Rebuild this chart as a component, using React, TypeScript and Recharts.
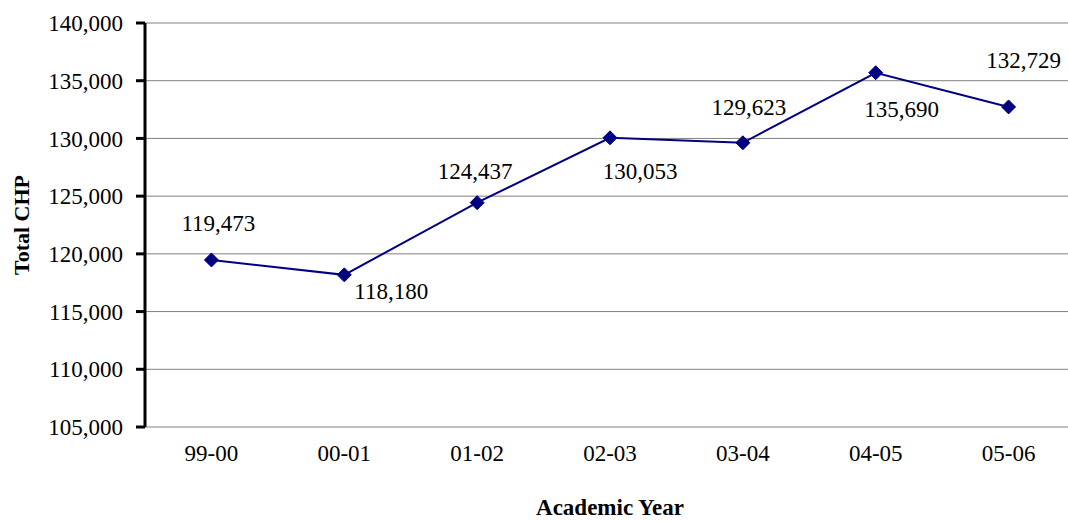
import { LineChart, Line, XAxis, YAxis, CartesianGrid, LabelList } from 'recharts';

const years = ['99-00', '00-01', '01-02', '02-03', '03-04', '04-05', '05-06'];
const totalChp = [119473, 118180, 124437, 130053, 129623, 135690, 132729];
const yTicks = [105000, 110000, 115000, 120000, 125000, 130000, 135000, 140000];
const boundaryTicks = [0, 1, 2, 3, 4, 5, 6, 7];

// where each value label sits relative to its marker (hand placed in the original)
const labelOffsets = [
  [7, -36],
  [47, 17],
  [-2, -31],
  [30, 34],
  [6, -35],
  [26, 37],
  [15, -46],
];

const FONT = '"Liberation Serif", "Times New Roman", serif';

const chartData = years.map((year, i) => ({ year, value: totalChp[i] }));

const fmt = (v: number) => v.toLocaleString('en-US');

const Diamond = (props: any) => {
  const { cx, cy } = props;
  if (cx == null || cy == null) return null;
  const r = 7;
  return (
    <polygon
      points={`${cx},${cy - r} ${cx + r},${cy} ${cx},${cy + r} ${cx - r},${cy}`}
      fill="#000080"
      stroke="#000080"
    />
  );
};

const ValueLabel = (props: any) => {
  const { x, y, value, index } = props;
  const [dx, dy] = labelOffsets[index] || [0, -20];
  return (
    <text
      x={x + dx}
      y={y + dy}
      textAnchor="middle"
      dominantBaseline="central"
      fontSize={23}
      fontFamily={FONT}
      fill="#000"
    >
      {fmt(value)}
    </text>
  );
};

export default function App() {
  return (
    <div
      style={{
        position: 'fixed',
        left: 0,
        top: 0,
        width: 1068,
        height: 521,
        overflow: 'hidden',
        background: '#fff',
        fontFamily: FONT,
      }}
    >
      <LineChart
        width={1090}
        height={521}
        data={chartData}
        margin={{ top: 23, right: 15, left: 0, bottom: 0 }}
        style={{ fontFamily: FONT }}
      >
        <CartesianGrid xAxisId="cat" vertical={false} stroke="#808080" strokeWidth={1} />
        <XAxis
          xAxisId="marks"
          type="number"
          domain={[0, 7]}
          ticks={boundaryTicks}
          height={0}
          tick={false}
          tickSize={9}
          axisLine={{ stroke: '#000', strokeWidth: 3 }}
          tickLine={{ stroke: '#000', strokeWidth: 3 }}
          allowDataOverflow
        />
        <XAxis
          xAxisId="cat"
          dataKey="year"
          scale="band"
          height={94}
          axisLine={false}
          tickLine={false}
          tickSize={0}
          tickMargin={18}
          interval={0}
          tick={{ fontSize: 23, fill: '#000', fontFamily: FONT }}
          label={{
            value: 'Academic Year',
            position: 'insideBottom',
            offset: 6,
            style: { fontSize: 23, fontWeight: 'bold', fill: '#000', fontFamily: FONT },
          }}
        />
        <YAxis
          domain={[105000, 140000]}
          ticks={yTicks}
          width={145}
          tickSize={9}
          tickMargin={13}
          tickFormatter={fmt}
          axisLine={{ stroke: '#000', strokeWidth: 3 }}
          tickLine={{ stroke: '#000', strokeWidth: 3 }}
          tick={{ fontSize: 23, fill: '#000', fontFamily: FONT }}
          label={{
            value: 'Total CHP',
            angle: -90,
            position: 'insideLeft',
            offset: 21,
            style: { fontSize: 22, fontWeight: 'bold', fill: '#000', fontFamily: FONT, textAnchor: 'middle' },
          }}
        />
        <Line
          xAxisId="cat"
          type="linear"
          dataKey="value"
          stroke="#000080"
          strokeWidth={2}
          dot={<Diamond />}
          activeDot={false}
          isAnimationActive={false}
        >
          <LabelList dataKey="value" content={<ValueLabel />} />
        </Line>
      </LineChart>
    </div>
  );
}
